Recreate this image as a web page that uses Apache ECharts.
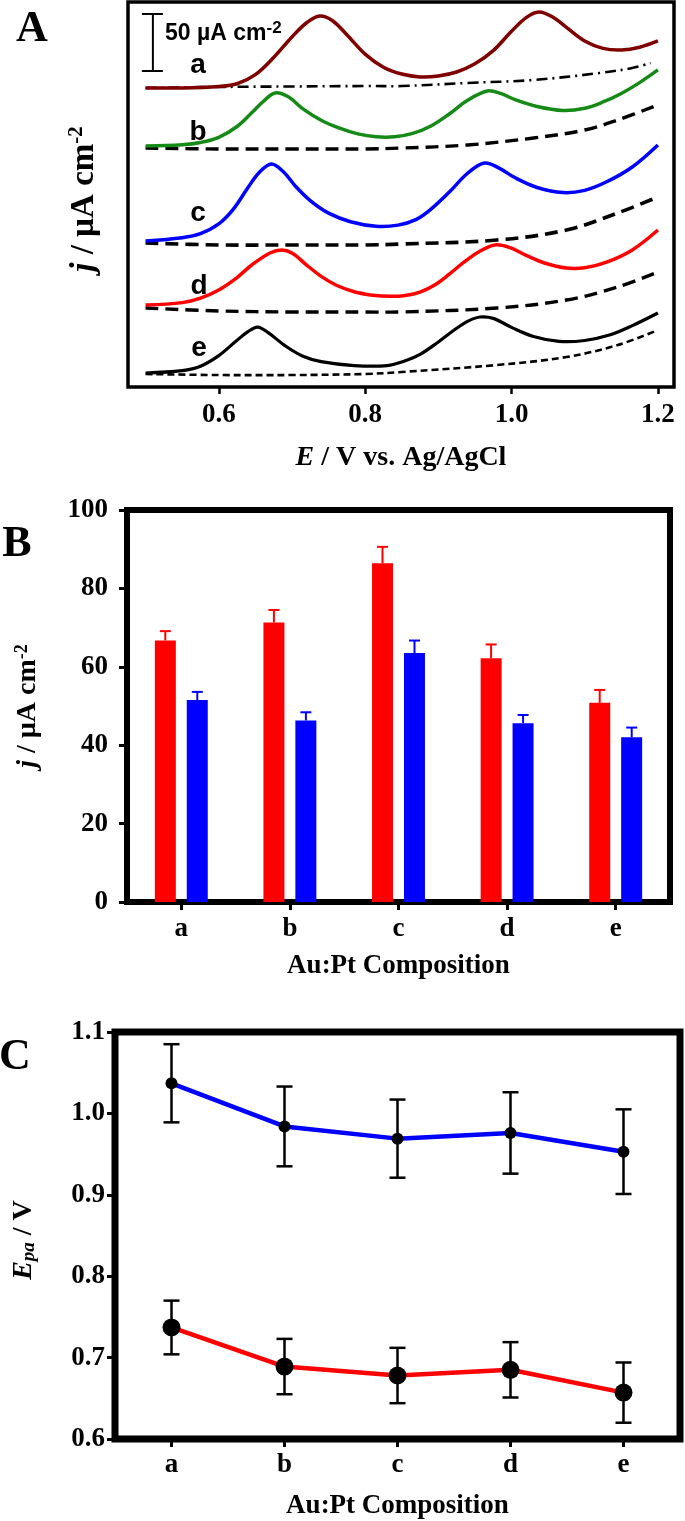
<!DOCTYPE html>
<html>
<head>
<meta charset="utf-8">
<script src="https://cdn.jsdelivr.net/npm/echarts@6/dist/echarts.min.js"></script>
<style>
html,body{margin:0;padding:0;background:#fff;}
#c{width:685px;height:1521px;}
</style>
</head>
<body>
<div id="c"></div>
<script>
// ---------- Panel A: CV curves (offset current, µA cm^-2) ----------
const E_a = [0.50,0.55,0.60,0.625,0.65,0.675,0.70,0.72,0.738,0.755,0.775,0.80,0.825,0.85,0.875,0.90,0.925,0.95,0.975,1.00,1.02,1.037,1.055,1.075,1.10,1.125,1.15,1.175,1.20];
const j_a = [262.3,262.3,263.6,266.0,274.0,289.0,307.0,319.5,325.4,321.5,309.0,292.0,280.5,274.5,272.0,272.8,276.3,283.5,295.0,312.0,324.0,328.9,325.0,315.5,303.5,297.0,295.6,298.0,303.5];
const E_b = [0.50,0.55,0.575,0.60,0.625,0.645,0.66,0.677,0.695,0.715,0.74,0.765,0.79,0.815,0.84,0.865,0.89,0.915,0.94,0.967,0.985,1.005,1.035,1.07,1.10,1.125,1.15,1.175,1.20];
const j_b = [211.4,212.5,214.5,219.0,228.5,240.5,250.0,257.9,254.5,244.0,234.0,227.0,222.0,219.5,219.5,222.5,229.0,239.5,251.5,259.6,257.5,252.0,246.0,242.5,244.5,250.0,257.5,267.0,278.1];
const E_c = [0.50,0.55,0.575,0.60,0.62,0.64,0.655,0.672,0.688,0.705,0.725,0.75,0.78,0.815,0.845,0.87,0.89,0.915,0.94,0.963,0.983,1.005,1.035,1.07,1.10,1.13,1.165,1.20];
const j_c = [128.1,131.0,134.5,143.0,156.0,175.0,188.0,195.6,189.0,176.0,163.5,152.5,145.0,141.0,142.0,147.0,156.0,171.0,187.5,196.5,192.0,183.5,175.0,170.5,172.5,180.0,193.0,212.3];
const E_d = [0.50,0.55,0.575,0.60,0.625,0.645,0.67,0.686,0.70,0.72,0.74,0.76,0.785,0.81,0.835,0.855,0.875,0.895,0.915,0.935,0.955,0.977,0.997,1.02,1.045,1.075,1.10,1.13,1.165,1.20];
const j_d = [71.9,74.0,78.0,85.1,96.0,107.0,117.5,120.2,117.5,107.0,97.0,89.5,83.5,80.5,79.5,80.3,83.3,89.5,99.0,109.5,118.5,124.6,122.5,115.5,108.8,104.3,104.6,109.5,120.2,137.7];
const E_e = [0.50,0.55,0.575,0.60,0.625,0.64,0.653,0.668,0.69,0.715,0.74,0.785,0.83,0.855,0.875,0.90,0.925,0.942,0.957,0.975,1.00,1.03,1.065,1.10,1.135,1.165,1.20];
const j_e = [12.3,14.3,18.2,27.5,41.0,48.5,52.6,47.5,36.5,27.0,22.3,18.8,18.8,23.0,28.6,39.5,51.5,58.2,61.4,60.2,52.3,44.3,40.0,40.8,45.8,53.8,64.9];

// blank (background) scans
const E_ba = [0.50,0.60,0.70,0.80,0.85,0.94,1.03,1.12,1.165,1.19];
const j_ba = [262.3,263.2,263.6,264.0,264.0,266.7,269.3,275.4,279.8,284.2];
const E_bb = [0.50,0.60,0.70,0.80,0.85,0.94,1.03,1.10,1.145,1.20];
const j_bb = [209.6,208.8,208.8,208.8,209.6,212.3,218.4,225.4,234.2,247.4];
const E_bl = [0.50,0.60,0.70,0.80,0.85,0.98,1.075,1.145,1.20];
const j_bc = [126.3,124.6,124.6,124.6,125.4,128.9,137.7,152.6,166.7];
const j_bd = [69.3,66.7,65.8,65.8,65.8,69.3,76.3,87.7,100.9];
const j_be = [11.4,10.5,10.5,11.4,13.2,19.3,26.3,36.8,50.0];

const xTicksA = [0.6, 0.8, 1.0, 1.2];
const scaleBarValue = 50;
const curveLabels = ['a','b','c','d','e'];

// ---------- Panel B: peak currents ----------
const categories = ['a','b','c','d','e'];
const peak1 = [66.7, 71.3, 86.4, 62.2, 50.8];
const peak1Err = [2.4, 3.2, 4.2, 3.5, 3.3];
const peak2 = [51.5, 46.3, 63.5, 45.6, 42.0];
const peak2Err = [2.1, 2.1, 3.2, 2.1, 2.5];

// ---------- Panel C: peak potentials ----------
const epaHigh = [1.037, 0.984, 0.969, 0.976, 0.953];
const epaHighErr = [0.048, 0.049, 0.048, 0.050, 0.052];
const epaLow = [0.737, 0.689, 0.678, 0.685, 0.657];
const epaLowErr = [0.033, 0.034, 0.034, 0.034, 0.037];

// ---------- build ----------
const SERIF = '"Liberation Serif","Times New Roman",serif';
const SANS = '"Liberation Sans",Arial,sans-serif';
const pairs = (xs, ys) => xs.map((x, i) => [x, ys[i]]);
const chart = echarts.init(document.getElementById('c'), null, {renderer: 'canvas', width: 685, height: 1521});

// smooth curve through the data points, positioned with the axis scales
function curve(xs, ys, color, width, dash, z) {
  return {type: 'custom', xAxisIndex: 0, yAxisIndex: 0, z, silent: true, animation: false,
    data: pairs(xs, ys),
    renderItem(params, api) {
      if (params.dataIndex !== 0) return {type: 'group', children: []};
      const pts = xs.map((x, i) => api.coord([x, ys[i]]));
      return {type: 'polyline', shape: {points: pts, smooth: 0.36},
        style: {stroke: color, lineWidth: width, fill: null, lineDash: dash || null, lineCap: 'butt', lineJoin: 'round'}};
    }};
}
function errUp(data, errs, color, off, axisIdx) {
  return {type: 'custom', xAxisIndex: axisIdx, yAxisIndex: axisIdx, z: 3, animation: false, silent: true,
    data: data.map((v, i) => [i, v, errs[i]]),
    renderItem(params, api) {
      const b = api.coord([api.value(0), api.value(1)]);
      const t = api.coord([api.value(0), api.value(1) + api.value(2)]);
      const x = b[0] + off;
      const st = {stroke: color, lineWidth: 2};
      return {type: 'group', children: [
        {type: 'line', shape: {x1: x, y1: b[1], x2: x, y2: t[1]}, style: st},
        {type: 'line', shape: {x1: x - 5.5, y1: t[1], x2: x + 5.5, y2: t[1]}, style: st}
      ]};
    }};
}
function errBoth(data, errs, axisIdx) {
  return {type: 'custom', xAxisIndex: axisIdx, yAxisIndex: axisIdx, z: 4, animation: false, silent: true,
    data: data.map((v, i) => [i, v, errs[i]]),
    renderItem(params, api) {
      const lo = api.coord([api.value(0), api.value(1) - api.value(2)]);
      const hi = api.coord([api.value(0), api.value(1) + api.value(2)]);
      const x = lo[0];
      const st = {stroke: '#000', lineWidth: 2.5};
      return {type: 'group', children: [
        {type: 'line', shape: {x1: x, y1: lo[1], x2: x, y2: hi[1]}, style: st},
        {type: 'line', shape: {x1: x - 8, y1: lo[1], x2: x + 8, y2: lo[1]}, style: st},
        {type: 'line', shape: {x1: x - 8, y1: hi[1], x2: x + 8, y2: hi[1]}, style: st}
      ]};
    }};
}

const tickLabel = {fontFamily: SERIF, fontWeight: 'bold', fontSize: 27, color: '#000'};
const nameStyle = {fontFamily: SERIF, fontWeight: 'bold', fontSize: 27, color: '#000'};

const option = {
  animation: false,
  backgroundColor: '#fff',
  grid: [
    {left: 128, top: 2, width: 546, height: 385, show: true, borderColor: '#000', borderWidth: 3.5, backgroundColor: 'transparent'},
    {left: 127, top: 510, width: 543, height: 392, show: true, borderColor: '#000', borderWidth: 6, backgroundColor: 'transparent'},
    {left: 115, top: 1032, width: 565, height: 411, show: true, borderColor: '#000', borderWidth: 7, backgroundColor: 'transparent'}
  ],
  xAxis: [
    {gridIndex: 0, type: 'value', min: 0.476, max: 1.222,
      axisLine: {show: false}, splitLine: {show: false},
      axisTick: {show: true, inside: false, length: 7, lineStyle: {color: '#000', width: 2.5}, customValues: xTicksA},
      axisLabel: Object.assign({margin: 15, customValues: xTicksA, formatter: v => v.toFixed(1)}, tickLabel),
      name: '{i|E} / V vs. Ag/AgCl', nameLocation: 'middle', nameGap: 57,
      nameTextStyle: Object.assign({rich: {i: {fontFamily: SERIF, fontStyle: 'italic', fontWeight: 'bold', fontSize: 28, color: '#000'}}}, nameStyle, {fontSize: 28})},
    {gridIndex: 1, type: 'category', data: categories, boundaryGap: true,
      axisLine: {show: false},
      axisTick: {show: true, alignWithLabel: true, inside: false, length: 8, lineStyle: {color: '#000', width: 3}},
      axisLabel: Object.assign({margin: 14}, tickLabel),
      name: 'Au:Pt Composition', nameLocation: 'middle', nameGap: 51, nameTextStyle: nameStyle},
    {gridIndex: 2, type: 'category', data: categories, boundaryGap: true,
      axisLine: {show: false},
      axisTick: {show: true, alignWithLabel: true, inside: false, length: 8, lineStyle: {color: '#000', width: 3}},
      axisLabel: Object.assign({margin: 13}, tickLabel),
      name: 'Au:Pt Composition', nameLocation: 'middle', nameGap: 54, nameTextStyle: nameStyle}
  ],
  yAxis: [
    {gridIndex: 0, type: 'value', min: 0, max: 337.7, show: false},
    {gridIndex: 1, type: 'value', min: 0, max: 100, interval: 20,
      axisLine: {show: false}, splitLine: {show: false},
      axisTick: {show: true, inside: false, length: 8, lineStyle: {color: '#000', width: 3}},
      axisLabel: Object.assign({margin: 19}, tickLabel)},
    {gridIndex: 2, type: 'value', min: 0.6, max: 1.1, interval: 0.1,
      axisLine: {show: false}, splitLine: {show: false},
      axisTick: {show: true, inside: false, length: 8, lineStyle: {color: '#000', width: 3}},
      axisLabel: Object.assign({margin: 10, formatter: v => v.toFixed(1)}, tickLabel)}
  ],
  series: [
    curve(E_ba, j_ba, '#000', 2.6, [11, 5, 2, 5], 2),
    curve(E_bb, j_bb, '#000', 3.4, [13, 7], 2),
    curve(E_bl, j_bc, '#000', 3.6, [13, 7], 2),
    curve(E_bl, j_bd, '#000', 3.4, [13, 7], 2),
    curve(E_bl, j_be, '#000', 2.6, [7, 4], 2),
    curve(E_a, j_a, '#800000', 3.5, null, 3),
    curve(E_b, j_b, '#168a16', 3.5, null, 3),
    curve(E_c, j_c, '#0000ff', 3.5, null, 3),
    curve(E_d, j_d, '#ff0000', 3.5, null, 3),
    curve(E_e, j_e, '#000000', 3.2, null, 3),
    // scale bar
    {type: 'custom', xAxisIndex: 0, yAxisIndex: 0, z: 5, animation: false, silent: true,
      data: [[0.51, 277.2, scaleBarValue]],
      renderItem(params, api) {
        const lo = api.coord([api.value(0), api.value(1)]);
        const hi = api.coord([api.value(0), api.value(1) + api.value(2)]);
        const st = {stroke: '#000', lineWidth: 2};
        return {type: 'group', children: [
          {type: 'line', shape: {x1: lo[0], y1: lo[1], x2: hi[0], y2: hi[1]}, style: st},
          {type: 'line', shape: {x1: lo[0] - 11, y1: lo[1], x2: lo[0] + 10, y2: lo[1]}, style: st},
          {type: 'line', shape: {x1: hi[0] - 11, y1: hi[1], x2: hi[0] + 10, y2: hi[1]}, style: st}
        ]};
      }},
    // panel B
    {type: 'bar', xAxisIndex: 1, yAxisIndex: 1, data: peak1, barWidth: 21, barGap: '52%', itemStyle: {color: '#ff0000'}, z: 2, silent: true},
    {type: 'bar', xAxisIndex: 1, yAxisIndex: 1, data: peak2, barWidth: 21, barGap: '52%', itemStyle: {color: '#0000ff'}, z: 2, silent: true},
    errUp(peak1, peak1Err, '#ff0000', -16, 1),
    errUp(peak2, peak2Err, '#0000ff', 16, 1),
    // panel C
    {type: 'line', xAxisIndex: 2, yAxisIndex: 2, data: epaHigh, symbol: 'circle', symbolSize: 12, z: 3,
      lineStyle: {color: '#0000ff', width: 4.5}, itemStyle: {color: '#000'}, silent: true},
    {type: 'line', xAxisIndex: 2, yAxisIndex: 2, data: epaLow, symbol: 'circle', symbolSize: 18, z: 3,
      lineStyle: {color: '#ff0000', width: 4.5}, itemStyle: {color: '#000'}, silent: true},
    errBoth(epaHigh, epaHighErr, 2),
    errBoth(epaLow, epaLowErr, 2)
  ],
  graphic: [
    {type: 'text', x: 32, y: 30, style: {text: 'A', font: 'bold 44px ' + SERIF, fill: '#000', align: 'center', verticalAlign: 'middle'}},
    {type: 'text', x: 17, y: 545, style: {text: 'B', font: 'bold 44px ' + SERIF, fill: '#000', align: 'center', verticalAlign: 'middle'}},
    {type: 'text', x: 15, y: 1058, style: {text: 'C', font: 'bold 44px ' + SERIF, fill: '#000', align: 'center', verticalAlign: 'middle'}},
    {type: 'text', x: 84, y: 199, rotation: Math.PI / 2, style: {
      text: '{j|j} / µA cm{s|-2}', font: 'bold 33px ' + SERIF, fill: '#000', align: 'center', verticalAlign: 'middle',
      rich: {j: {font: 'italic bold 33px ' + SERIF, fill: '#000'}, s: {font: 'bold 21px ' + SERIF, fill: '#000', verticalAlign: 'top', padding: [0, 0, 14, 0]}}}},
    {type: 'text', x: 28, y: 706, rotation: Math.PI / 2, style: {
      text: '{j|j} / µA cm{s|-2}', font: 'bold 28px ' + SERIF, fill: '#000', align: 'center', verticalAlign: 'middle',
      rich: {j: {font: 'italic bold 28px ' + SERIF, fill: '#000'}, s: {font: 'bold 18px ' + SERIF, fill: '#000', verticalAlign: 'top', padding: [0, 0, 12, 0]}}}},
    {type: 'text', x: 24, y: 1240, rotation: Math.PI / 2, style: {
      text: '{e|E}{p|pa} / V', font: 'bold 28px ' + SERIF, fill: '#000', align: 'center', verticalAlign: 'middle',
      rich: {e: {font: 'italic bold 28px ' + SERIF, fill: '#000'}, p: {font: 'italic bold 19px ' + SERIF, fill: '#000', verticalAlign: 'bottom', padding: [10, 0, 0, 0]}}}},
    {type: 'text', x: 165, y: 34, style: {
      text: '50 µA cm{s|-2}', font: 'bold 23px ' + SANS, fill: '#000', align: 'left', verticalAlign: 'middle',
      rich: {s: {font: 'bold 17px ' + SANS, fill: '#000', verticalAlign: 'top', padding: [0, 0, 12, 0]}}}},
    {type: 'text', x: 198, y: 65, style: {text: curveLabels[0], font: 'bold 28px ' + SANS, fill: '#000', align: 'center', verticalAlign: 'middle'}},
    {type: 'text', x: 198, y: 132, style: {text: curveLabels[1], font: 'bold 28px ' + SANS, fill: '#000', align: 'center', verticalAlign: 'middle'}},
    {type: 'text', x: 198, y: 213, style: {text: curveLabels[2], font: 'bold 28px ' + SANS, fill: '#000', align: 'center', verticalAlign: 'middle'}},
    {type: 'text', x: 199, y: 286, style: {text: curveLabels[3], font: 'bold 28px ' + SANS, fill: '#000', align: 'center', verticalAlign: 'middle'}},
    {type: 'text', x: 199, y: 348, style: {text: curveLabels[4], font: 'bold 28px ' + SANS, fill: '#000', align: 'center', verticalAlign: 'middle'}}
  ]
};
chart.setOption(option);
</script>
</body>
</html>
